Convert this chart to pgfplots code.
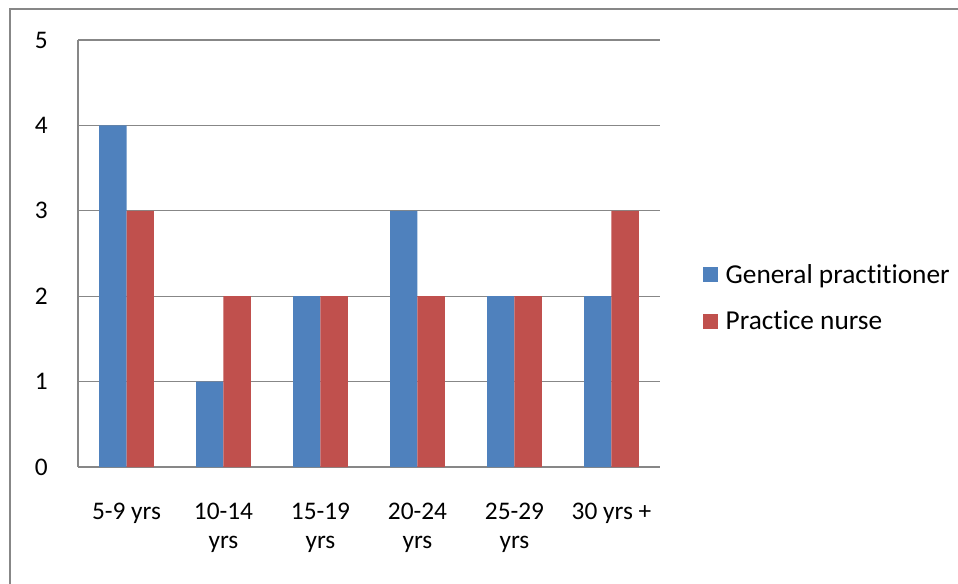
\documentclass[border=0pt]{standalone}
\usepackage{pgfplots}
\pgfplotsset{compat=1.18}
\usepackage{fontspec}
\setmainfont{Carlito}[Ligatures=NoCommon]
\definecolor{gpblue}{HTML}{4F81BD}
\definecolor{pnred}{HTML}{C0504D}
\definecolor{gridgray}{HTML}{878787}
\begin{document}
\begin{tikzpicture}
\path[use as bounding box] (0,0) rectangle (718.5pt,437.25pt);
\begin{axis}[
  at={(58.5pt,87pt)}, anchor=south west,
  scale only axis, width=436.5pt, height=320.25pt,
  font=\fontsize{19}{21.5}\selectfont,
  /pgf/number format/assume math mode=true,
  ybar=0pt, bar width=0.283,
  xmin=-0.5, xmax=5.5, ymin=0, ymax=5,
  xtick={0,1,2,3,4,5},
  xticklabels={5-9 yrs, 10-14\\yrs, 15-19\\yrs, 20-24\\yrs, 25-29\\yrs, 30 yrs +},
  xticklabel style={align=center, anchor=north, inner sep=0pt, yshift=-27pt},
  ytick={0,1,2,3,4,5},
  yticklabel style={anchor=east, inner sep=0pt, xshift=-22.5pt},
  major tick length=0pt,
  axis lines*=left,
  axis line style={gridgray, line width=1pt},
  ymajorgrids, grid style={gridgray, line width=1pt},
  legend style={draw=none, fill=none, inner sep=0pt, at={(1.074,0.475)}, anchor=north west,
    nodes={inner sep=0pt, anchor=west, font=\fontsize{20.5}{23}\selectfont},
    row sep=19pt, column sep=0pt,
    /tikz/every odd column/.append style={column sep=5.5pt}},
  legend cell align=left,
  legend image code/.code={\fill[#1] (0pt,-5.6pt) rectangle (11.25pt,5.6pt);},
]
\addplot[fill=gpblue, draw=none] coordinates {(0,4) (1,1) (2,2) (3,3) (4,2) (5,2)};
\addlegendentry{General practitioner}
\addplot[fill=pnred, draw=none] coordinates {(0,3) (1,2) (2,2) (3,2) (4,2) (5,3)};
\addlegendentry{Practice nurse}
\end{axis}
\draw[gridgray, line width=1.5pt] (7.5pt,-2pt) -- (7.5pt,430.5pt) -- (720pt,430.5pt);
\end{tikzpicture}
\end{document}
